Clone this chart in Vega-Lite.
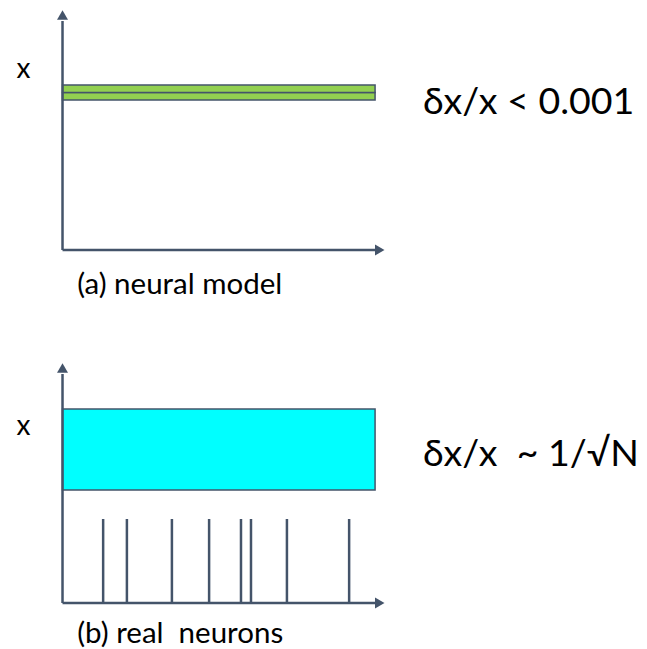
{
  "$schema": "https://vega.github.io/schema/vega-lite/v6.json",
  "padding": 0,
  "spacing": 0,
  "config": {"view": {"stroke": null}, "font": "Lato"},
  "datasets": {
    "axesA": [{"t0": 0, "t1": 0, "v0": 0, "v1": 229}, {"t0": 0, "t1": 100.5, "v0": 0, "v1": 0}],
    "upA": [{"t": 0, "v": 235}],
    "rightAll": [{"t": 101.5, "v": 0}],
    "barA": [{"t0": 0, "t1": 100, "v0": 150, "v1": 157.5}, {"t0": 0, "t1": 100, "v0": 157.5, "v1": 165}],
    "xlabA": [{"t": -12.5, "v": 180, "label": "x"}],
    "capA": [{"t": 4.7, "v": -35, "label": "(a) neural model"}],
    "eqA": [{"t": 115.3, "v": 147, "label": "δx/x < 0.001"}],
    "axesB": [{"t0": 0, "t1": 0, "v0": 0, "v1": 229}, {"t0": 0, "t1": 100.5, "v0": 0, "v1": 0}],
    "upB": [{"t": 0, "v": 235}],
    "rectB": [{"t0": 0, "t1": 100, "v0": 113, "v1": 194}],
    "spikes": [{"t": 13.0, "lo": 0, "hi": 84}, {"t": 20.6, "lo": 0, "hi": 84}, {"t": 35.0, "lo": 0, "hi": 84}, {"t": 46.9, "lo": 0, "hi": 84}, {"t": 57.1, "lo": 0, "hi": 84}, {"t": 60.3, "lo": 0, "hi": 84}, {"t": 71.8, "lo": 0, "hi": 84}, {"t": 91.7, "lo": 0, "hi": 84}],
    "xlabB": [{"t": -12.5, "v": 176, "label": "x"}],
    "capB": [{"t": 4.7, "v": -31, "label": "(b) real\u00a0 neurons"}],
    "eqB": [{"t": 115.3, "v": 148, "label": "δx/x\u00a0 ~ 1/√N"}]
  },
  "vconcat": [
    {
      "width": 647,
      "height": 320,
      "layer": [
        {
          "data": {"name": "barA"},
          "mark": {"type": "rect", "fill": "#92D050", "stroke": "#44546A", "strokeWidth": 1.5},
          "encoding": {
            "x": {"field": "t0", "type": "quantitative", "scale": {"domain": [-20, 187], "nice": false, "zero": false}, "axis": null},
            "x2": {"field": "t1"},
            "y": {"field": "v0", "type": "quantitative", "scale": {"domain": [-70, 250], "nice": false, "zero": false}, "axis": null},
            "y2": {"field": "v1"}
          }
        },
        {
          "data": {"name": "axesA"},
          "mark": {"type": "rule", "color": "#44546A", "strokeWidth": 2.5},
          "encoding": {
            "x": {"field": "t0", "type": "quantitative", "scale": {"domain": [-20, 187], "nice": false, "zero": false}, "axis": null},
            "x2": {"field": "t1"},
            "y": {"field": "v0", "type": "quantitative", "scale": {"domain": [-70, 250], "nice": false, "zero": false}, "axis": null},
            "y2": {"field": "v1"}
          }
        },
        {
          "data": {"name": "upA"},
          "mark": {"type": "point", "shape": "triangle-up", "filled": true, "color": "#44546A", "size": 120, "opacity": 1},
          "encoding": {
            "x": {"field": "t", "type": "quantitative", "scale": {"domain": [-20, 187], "nice": false, "zero": false}, "axis": null},
            "y": {"field": "v", "type": "quantitative", "scale": {"domain": [-70, 250], "nice": false, "zero": false}, "axis": null}
          }
        },
        {
          "data": {"name": "rightAll"},
          "mark": {"type": "point", "shape": "triangle-right", "filled": true, "color": "#44546A", "size": 120, "opacity": 1},
          "encoding": {
            "x": {"field": "t", "type": "quantitative", "scale": {"domain": [-20, 187], "nice": false, "zero": false}, "axis": null},
            "y": {"field": "v", "type": "quantitative", "scale": {"domain": [-70, 250], "nice": false, "zero": false}, "axis": null}
          }
        },
        {
          "data": {"name": "xlabA"},
          "mark": {"type": "text", "fontSize": 28, "align": "center", "baseline": "middle", "color": "#000000"},
          "encoding": {
            "x": {"field": "t", "type": "quantitative", "scale": {"domain": [-20, 187], "nice": false, "zero": false}, "axis": null},
            "y": {"field": "v", "type": "quantitative", "scale": {"domain": [-70, 250], "nice": false, "zero": false}, "axis": null},
            "text": {"field": "label"}
          }
        },
        {
          "data": {"name": "capA"},
          "mark": {"type": "text", "fontSize": 29.5, "align": "left", "baseline": "middle", "color": "#000000"},
          "encoding": {
            "x": {"field": "t", "type": "quantitative", "scale": {"domain": [-20, 187], "nice": false, "zero": false}, "axis": null},
            "y": {"field": "v", "type": "quantitative", "scale": {"domain": [-70, 250], "nice": false, "zero": false}, "axis": null},
            "text": {"field": "label"}
          }
        },
        {
          "data": {"name": "eqA"},
          "mark": {"type": "text", "fontSize": 37.5, "align": "left", "baseline": "middle", "color": "#000000"},
          "encoding": {
            "x": {"field": "t", "type": "quantitative", "scale": {"domain": [-20, 187], "nice": false, "zero": false}, "axis": null},
            "y": {"field": "v", "type": "quantitative", "scale": {"domain": [-70, 250], "nice": false, "zero": false}, "axis": null},
            "text": {"field": "label"}
          }
        }
      ]
    },
    {
      "width": 647,
      "height": 329,
      "layer": [
        {
          "data": {"name": "rectB"},
          "mark": {"type": "rect", "fill": "#00FFFF", "stroke": "#44546A", "strokeWidth": 1.5},
          "encoding": {
            "x": {"field": "t0", "type": "quantitative", "scale": {"domain": [-20, 187], "nice": false, "zero": false}, "axis": null},
            "x2": {"field": "t1"},
            "y": {"field": "v0", "type": "quantitative", "scale": {"domain": [-46, 283], "nice": false, "zero": false}, "axis": null},
            "y2": {"field": "v1"}
          }
        },
        {
          "data": {"name": "spikes"},
          "mark": {"type": "rule", "color": "#44546A", "strokeWidth": 2.5},
          "encoding": {
            "x": {"field": "t", "type": "quantitative", "scale": {"domain": [-20, 187], "nice": false, "zero": false}, "axis": null},
            "y": {"field": "lo", "type": "quantitative", "scale": {"domain": [-46, 283], "nice": false, "zero": false}, "axis": null},
            "y2": {"field": "hi"}
          }
        },
        {
          "data": {"name": "axesB"},
          "mark": {"type": "rule", "color": "#44546A", "strokeWidth": 2.5},
          "encoding": {
            "x": {"field": "t0", "type": "quantitative", "scale": {"domain": [-20, 187], "nice": false, "zero": false}, "axis": null},
            "x2": {"field": "t1"},
            "y": {"field": "v0", "type": "quantitative", "scale": {"domain": [-46, 283], "nice": false, "zero": false}, "axis": null},
            "y2": {"field": "v1"}
          }
        },
        {
          "data": {"name": "upB"},
          "mark": {"type": "point", "shape": "triangle-up", "filled": true, "color": "#44546A", "size": 120, "opacity": 1},
          "encoding": {
            "x": {"field": "t", "type": "quantitative", "scale": {"domain": [-20, 187], "nice": false, "zero": false}, "axis": null},
            "y": {"field": "v", "type": "quantitative", "scale": {"domain": [-46, 283], "nice": false, "zero": false}, "axis": null}
          }
        },
        {
          "data": {"name": "rightAll"},
          "mark": {"type": "point", "shape": "triangle-right", "filled": true, "color": "#44546A", "size": 120, "opacity": 1},
          "encoding": {
            "x": {"field": "t", "type": "quantitative", "scale": {"domain": [-20, 187], "nice": false, "zero": false}, "axis": null},
            "y": {"field": "v", "type": "quantitative", "scale": {"domain": [-46, 283], "nice": false, "zero": false}, "axis": null}
          }
        },
        {
          "data": {"name": "xlabB"},
          "mark": {"type": "text", "fontSize": 28, "align": "center", "baseline": "middle", "color": "#000000"},
          "encoding": {
            "x": {"field": "t", "type": "quantitative", "scale": {"domain": [-20, 187], "nice": false, "zero": false}, "axis": null},
            "y": {"field": "v", "type": "quantitative", "scale": {"domain": [-46, 283], "nice": false, "zero": false}, "axis": null},
            "text": {"field": "label"}
          }
        },
        {
          "data": {"name": "capB"},
          "mark": {"type": "text", "fontSize": 29.5, "align": "left", "baseline": "middle", "color": "#000000"},
          "encoding": {
            "x": {"field": "t", "type": "quantitative", "scale": {"domain": [-20, 187], "nice": false, "zero": false}, "axis": null},
            "y": {"field": "v", "type": "quantitative", "scale": {"domain": [-46, 283], "nice": false, "zero": false}, "axis": null},
            "text": {"field": "label"}
          }
        },
        {
          "data": {"name": "eqB"},
          "mark": {"type": "text", "fontSize": 37.5, "align": "left", "baseline": "middle", "color": "#000000"},
          "encoding": {
            "x": {"field": "t", "type": "quantitative", "scale": {"domain": [-20, 187], "nice": false, "zero": false}, "axis": null},
            "y": {"field": "v", "type": "quantitative", "scale": {"domain": [-46, 283], "nice": false, "zero": false}, "axis": null},
            "text": {"field": "label"}
          }
        }
      ]
    }
  ]
}
